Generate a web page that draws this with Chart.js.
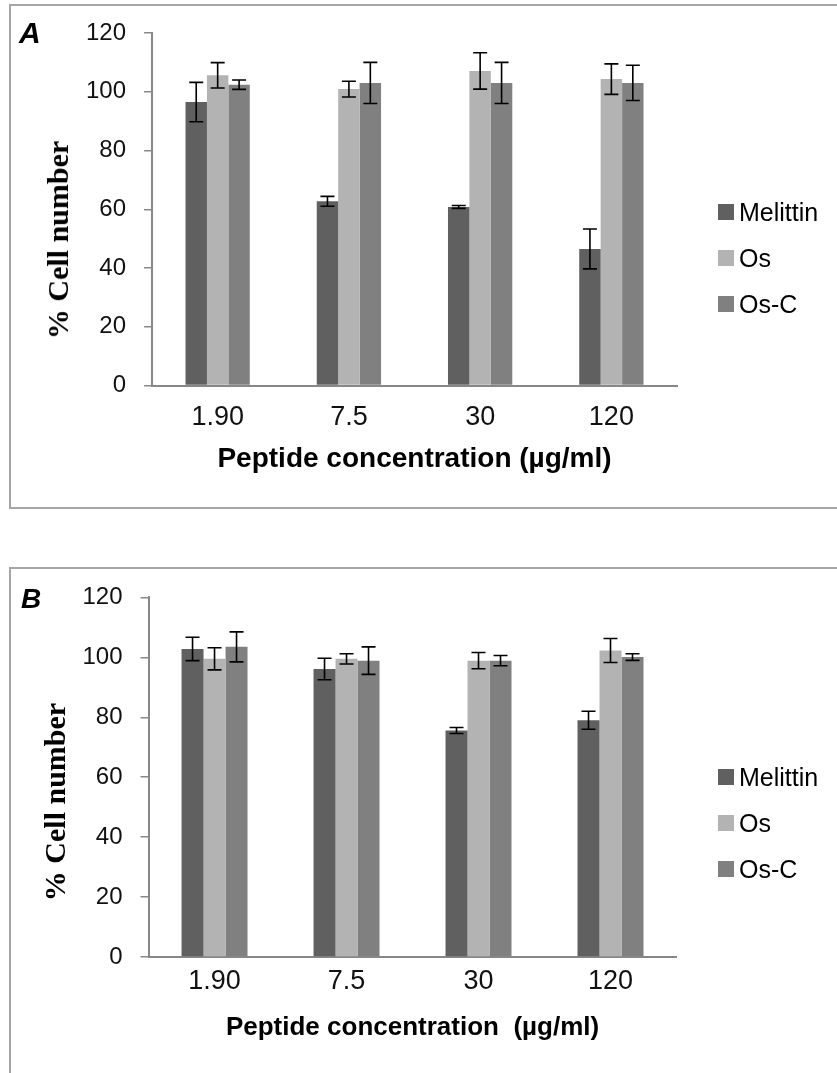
<!DOCTYPE html>
<html>
<head>
<meta charset="utf-8">
<script src="https://cdn.jsdelivr.net/npm/chart.js@4.4.0/dist/chart.umd.min.js"></script>
<style>
  body { margin: 0; width: 837px; height: 1073px; overflow: hidden; background: #fff; position: relative;
         font-family: "Liberation Sans", Arial, sans-serif; }
  .panel { position: absolute; left: 9px; width: 850px; box-sizing: border-box; border: 2px solid #a6a6a6; }
  #boxA { top: 4px; height: 505px; }
  #boxB { top: 567px; height: 520px; }
  .wrap { position: absolute; left: 0; width: 720px; }
  #wrapA { top: 0; height: 500px; }
  #wrapB { top: 565px; height: 508px; }
  .ytitle { position: absolute; font: bold 30px "Liberation Serif", "Times New Roman", serif; white-space: nowrap;
            transform: translate(-50%, -50%) rotate(-90deg); line-height: 1; }
  .letter { position: absolute; font-style: italic; font-weight: bold; line-height: 1; }
  .legend { position: absolute; left: 718px; font-size: 25px; color: #000; }
  .legend div { height: 46px; display: flex; align-items: center; }
  .legend span.sw { width: 16px; height: 16px; margin-right: 5px; display: inline-block; }
</style>
</head>
<body>
<div class="panel" id="boxA"></div>
<div class="panel" id="boxB"></div>
<div class="wrap" id="wrapA"><canvas id="chartA"></canvas></div>
<div class="wrap" id="wrapB"><canvas id="chartB"></canvas></div>
<div class="letter" style="left:19px; top:18px; font-size:30px;">A</div>
<div class="letter" style="left:21px; top:585px; font-size:28px;">B</div>
<div class="ytitle" style="left:58px; top:240px;">% Cell number</div>
<div class="ytitle" style="left:55px; top:802px;">% Cell number</div>
<div class="legend" id="legendA" style="top:189px;"></div>
<div class="legend" id="legendB" style="top:754px;"></div>
<script>
const concentrations = ['1.90', '7.5', '30', '120'];
const seriesNames = ['Melittin', 'Os', 'Os-C'];
const seriesColors = ['#606060', '#b3b3b3', '#808080'];

// panel A
const melittinA = [96.5, 62.7, 60.8, 46.5];
const melittinErrA = [6.7, 1.7, 0.5, 6.8];
const osA = [105.6, 100.9, 107.1, 104.3];
const osErrA = [4.3, 2.7, 6.2, 5.2];
const oscA = [102.4, 103, 103, 103];
const oscErrA = [1.6, 7, 7, 6];

// panel B
const melittinB = [102.8, 96.1, 75.6, 79];
const melittinErrB = [3.9, 3.6, 1, 3];
const osB = [99.5, 99.5, 98.9, 102.3];
const osErrB = [3.7, 1.7, 2.7, 4];
const oscB = [103.5, 98.9, 98.9, 100.1];
const oscErrB = [5, 4.6, 1.7, 1.1];

const yMin = 0, yMax = 120, yStep = 20;

const errorBars = {
  id: 'errorBars',
  afterDatasetsDraw(chart) {
    const ctx = chart.ctx;
    const y = chart.scales.y;
    ctx.save();
    ctx.strokeStyle = '#000';
    ctx.lineWidth = 1.6;
    chart.data.datasets.forEach((ds, i) => {
      chart.getDatasetMeta(i).data.forEach((bar, j) => {
        const v = ds.data[j], e = ds.errors[j];
        const top = y.getPixelForValue(v + e);
        const bot = y.getPixelForValue(v - e);
        const half = 7;
        ctx.beginPath();
        ctx.moveTo(bar.x, top); ctx.lineTo(bar.x, bot);
        ctx.moveTo(bar.x - half, top); ctx.lineTo(bar.x + half, top);
        ctx.moveTo(bar.x - half, bot); ctx.lineTo(bar.x + half, bot);
        ctx.stroke();
      });
    });
    ctx.restore();
  }
};

function makeChart(id, values, errors, lay) {
  const datasets = seriesNames.map((name, i) => ({
    label: name,
    data: values[i],
    errors: errors[i],
    backgroundColor: seriesColors[i],
    borderWidth: 0,
    categoryPercentage: lay.cat,
    barPercentage: 1
  }));
  return new Chart(document.getElementById(id), {
    type: 'bar',
    data: { labels: concentrations, datasets: datasets },
    plugins: [errorBars],
    options: {
      responsive: true,
      maintainAspectRatio: false,
      animation: false,
      layout: { padding: lay.padding },
      plugins: { legend: { display: false }, tooltip: { enabled: false } },
      scales: {
        x: {
          grid: { display: false, drawTicks: false },
          border: { display: true, color: '#888', width: 2 },
          ticks: { color: '#111', padding: lay.xPad, font: { family: 'Liberation Sans', size: 27, lineHeight: 1 } },
          title: {
            display: true,
            text: lay.xTitle,
            color: '#000',
            padding: { top: lay.titlePad, bottom: 0 },
            font: { family: 'Liberation Sans', size: lay.titleSize, weight: 'bold', lineHeight: 1 }
          }
        },
        y: {
          min: yMin,
          max: yMax,
          ticks: { stepSize: yStep, color: '#111', padding: 18, font: { family: 'Liberation Sans', size: 24 } },
          grid: { drawOnChartArea: false, drawTicks: true, tickLength: 8, color: '#888', lineWidth: 1.5 },
          border: { display: true, color: '#888', width: 2 }
        }
      }
    }
  });
}

function makeLegend(id) {
  const el = document.getElementById(id);
  seriesNames.forEach((name, i) => {
    const row = document.createElement('div');
    const sw = document.createElement('span');
    sw.className = 'sw';
    sw.style.background = seriesColors[i];
    row.appendChild(sw);
    row.appendChild(document.createTextNode(name));
    el.appendChild(row);
  });
}

makeChart('chartA', [melittinA, osA, oscA], [melittinErrA, osErrA, oscErrA], {
  cat: 0.49,
  xPad: 18.5,
  titlePad: -4,
  titleSize: 28,
  xTitle: 'Peptide concentration (µg/ml)',
  padding: { left: 68, right: 43, top: 33, bottom: 26.5 }
});
makeChart('chartB', [melittinB, osB, oscB], [melittinErrB, osErrB, oscErrB], {
  cat: 0.5,
  xPad: 11.2,
  titlePad: 8.6,
  titleSize: 26,
  xTitle: 'Peptide concentration  (µg/ml)',
  padding: { left: 64.5, right: 43.5, top: 31, bottom: 32 }
});
makeLegend('legendA');
makeLegend('legendB');
</script>
</body>
</html>
